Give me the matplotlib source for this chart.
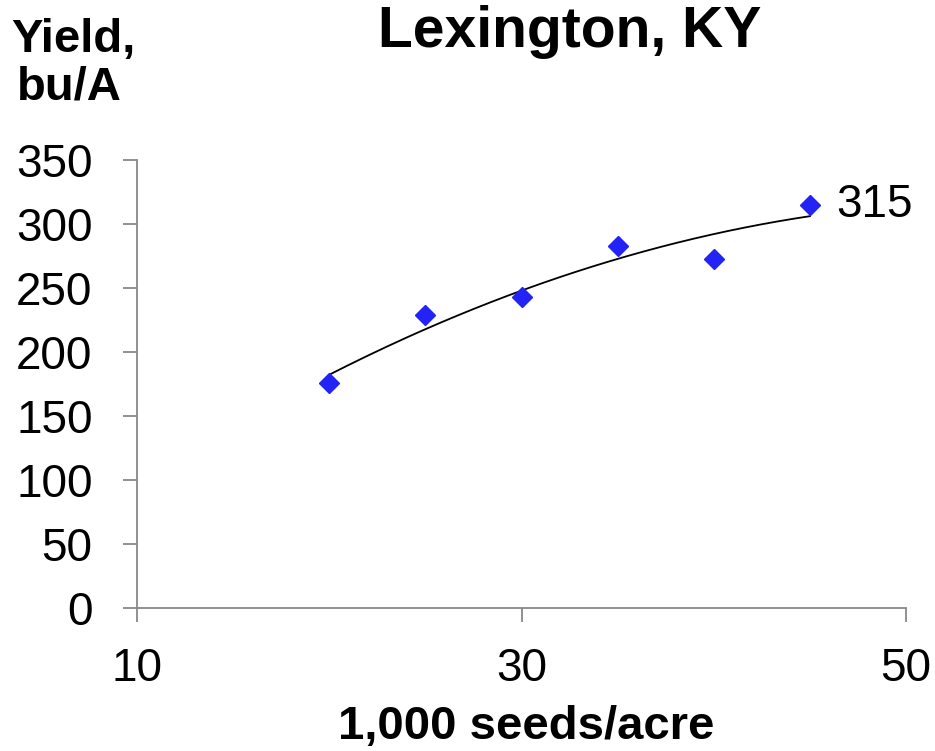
import numpy as np
import matplotlib
matplotlib.use("Agg")
import matplotlib.pyplot as plt

seeds = [20, 25, 30, 35, 40, 45]
yields = [176, 229, 243, 283, 273, 315]
xticks = [10, 30, 50]
yticks = [0, 50, 100, 150, 200, 250, 300, 350]

fam = ['Liberation Sans', 'DejaVu Sans']
plt.rcParams['font.family'] = fam

W, H = 935, 751
fig = plt.figure(figsize=(W / 100, H / 100), dpi=100)
ax = fig.add_axes([137 / W, 1 - 608 / H, (906 - 137) / W, (608 - 160) / H])

coef = np.polyfit(seeds, yields, 2)
xs = np.linspace(min(seeds), max(seeds), 200)
ax.plot(xs, np.polyval(coef, xs), color='black', lw=1.3, zorder=2)
ax.plot(seeds, yields, linestyle='none', marker='D', color='#2323f5', markersize=10.3, zorder=3)
ax.annotate(str(yields[-1]), (seeds[-1], yields[-1]), xytext=(19, 0), textcoords='offset points',
            va='center', ha='left', fontsize=33)

ax.set_xlim(10, 50)
ax.set_ylim(0, 350)
ax.set_xticks(xticks)
ax.set_yticks(yticks)
for s in ['top', 'right']:
    ax.spines[s].set_visible(False)
for s in ['left', 'bottom']:
    ax.spines[s].set_color('#888888')
    ax.spines[s].set_linewidth(1.3)
ax.tick_params(axis='both', direction='out', length=10, color='#888888', width=1.3,
               labelsize=33)
ax.tick_params(axis='y', pad=22)
ax.tick_params(axis='x', pad=18)

fig.text(570 / W, 1 - 47 / H, 'Lexington, KY', ha='center', va='baseline',
         fontsize=41, fontweight='bold')
fig.text(73 / W, 1 - 52 / H, 'Yield,', ha='center', va='baseline', fontsize=34, fontweight='bold')
fig.text(69 / W, 1 - 100 / H, 'bu/A', ha='center', va='baseline', fontsize=34, fontweight='bold')
fig.text(526 / W, 1 - 739 / H, '1,000 seeds/acre', ha='center', va='baseline',
         fontsize=34, fontweight='bold')

fig.savefig('out.png', dpi=100)
